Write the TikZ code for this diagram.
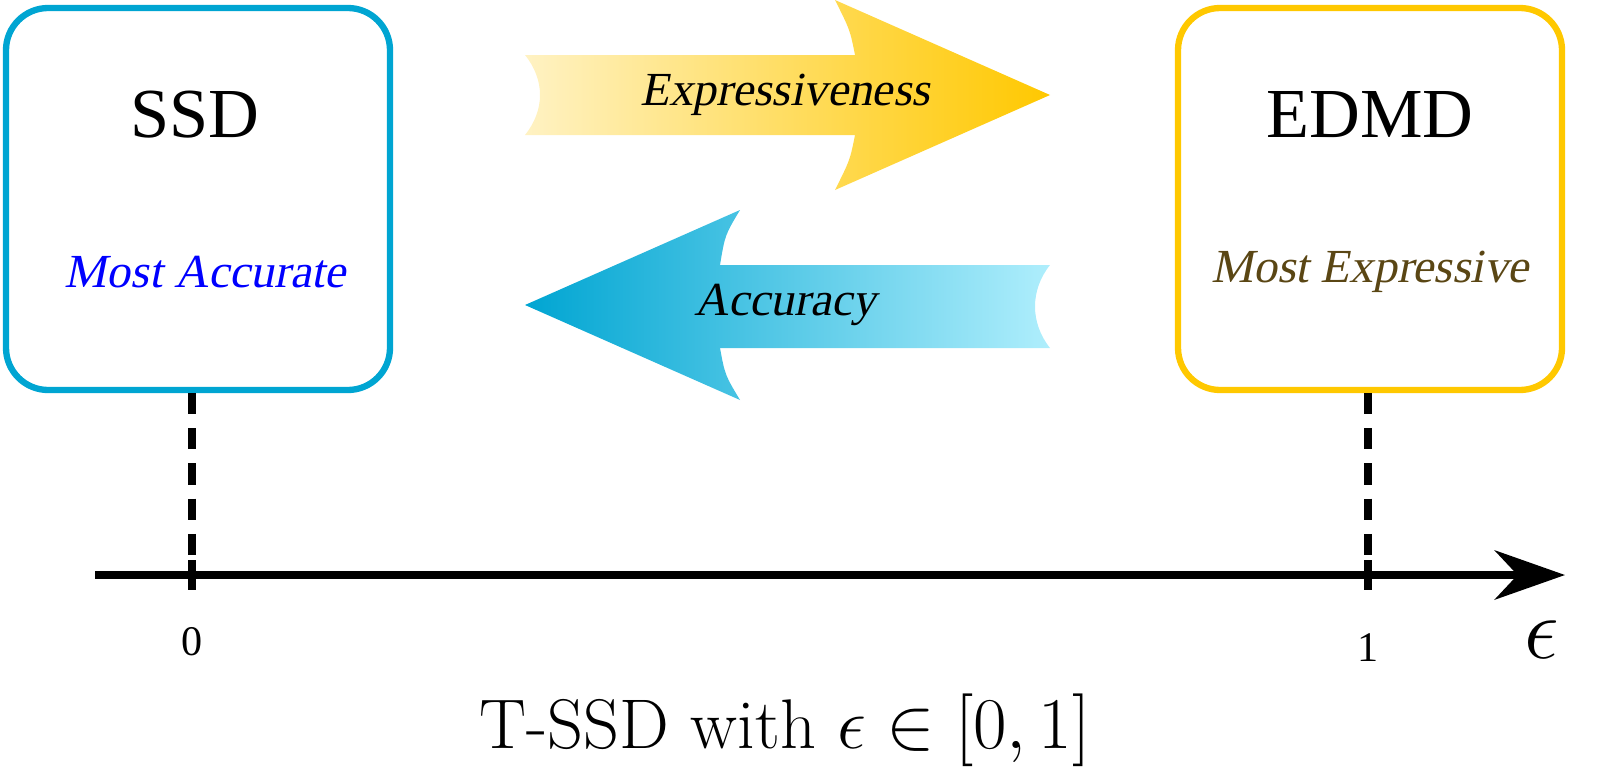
\documentclass[tikz,border=0pt]{standalone}
\usepackage{fontspec}
\setmainfont{Liberation Serif}
\newfontfamily\slfont{Liberation Serif}[FakeSlant=0.2]
\newfontfamily\lmfont{Latin Modern Roman}
\usetikzlibrary{arrows.meta,positioning}
\definecolor{ssdblue}{RGB}{0,165,210}
\definecolor{edmdgold}{RGB}{255,200,0}
\definecolor{lightblue}{RGB}{175,238,252}
\definecolor{lightgold}{RGB}{255,242,195}
\definecolor{olive}{RGB}{90,70,20}
\begin{document}
\begin{tikzpicture}[box/.style={draw,line width=1.8pt,rounded corners=12pt,minimum width=3.84cm,minimum height=3.82cm},
  title/.style={font=\fontsize{20}{22}\selectfont},
  sub/.style={font=\slfont\fontsize{13.5}{15}\selectfont},
  guide/.style={line width=2.3pt,dash pattern=on 6pt off 4pt}]
\useasboundingbox (0,0) rectangle (16,7.7);

\node[box,draw=ssdblue] (S) at (1.98,5.71) {};
\node[box,draw=edmdgold] (E) at (13.7,5.71) {};
\node[title] (St) at (1.95,6.55) {SSD};
\node[title] (Et) at (13.7,6.55) {EDMD};
\node[sub,text=blue] (Ss) at (2.05,4.98) {Most Accurate};
\node[sub,text=olive] (Es) at (13.7,4.98) {Most Expressive};

% arrows
\shade[left color=lightgold,right color=edmdgold] (5.25,7.15) .. controls (5.45,6.9) and (5.45,6.6) .. (5.25,6.35) -- (8.55,6.35) .. controls (8.5,6.1) .. (8.35,5.8) -- (10.5,6.75) -- (8.35,7.7) .. controls (8.5,7.4) .. (8.55,7.15) -- cycle;
\node[sub] (X) at (7.85,6.75) {Expressiveness};
\shade[left color=ssdblue,right color=lightblue] (10.5,5.05) .. controls (10.3,4.8) and (10.3,4.47) .. (10.5,4.22) -- (7.2,4.22) .. controls (7.25,3.95) .. (7.4,3.7) -- (5.25,4.65) -- (7.4,5.6) .. controls (7.25,5.35) .. (7.2,5.05) -- cycle;
\node[sub] (A) at (7.85,4.65) {Accuracy};

% axis
\coordinate (a0) at (0.95,1.95);
\coordinate (a1) at (15.65,1.95);
\draw[line width=2.3pt,-{Stealth[length=20pt,width=14pt]}] (a0) -- (a1);
\coordinate (t0) at (1.92,1.8);
\coordinate (t1) at (13.68,1.8);
\draw[guide] (S.south -| t0) -- (t0);
\draw[guide] (E.south -| t1) -- (t1);
\draw[line width=2.3pt] (1.92,2.1) -- (t0);
\draw[line width=2.3pt] (13.68,2.1) -- (t1);
\node[font=\fontsize{12}{14}\selectfont] (l0) at (1.92,1.28) {0};
\node[font=\fontsize{12}{14}\selectfont] (l1) at (13.68,1.22) {1};
\node[font=\fontsize{26}{28}\selectfont] (eps) at (15.42,1.3) {$\epsilon$};
\node[font=\lmfont\fontsize{20}{22}\selectfont] (cap) at (7.85,0.4) {T-SSD with $\epsilon\in[0,1]$};
\end{tikzpicture}
\end{document}
